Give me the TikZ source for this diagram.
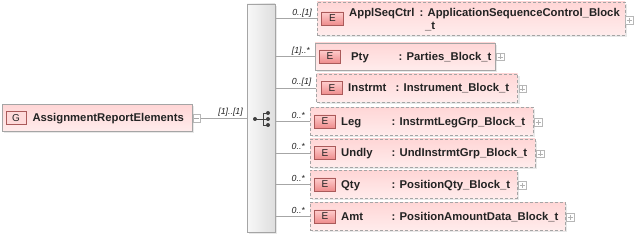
\documentclass[tikz,border=0pt]{standalone}
\usepackage{fontspec}
\setmainfont{Liberation Sans}
\usetikzlibrary{shadows}
\definecolor{boxpinkA}{RGB}{255,214,214}
\definecolor{boxpinkB}{RGB}{255,236,236}
\definecolor{iconA}{RGB}{255,205,205}
\definecolor{iconB}{RGB}{238,140,140}
\definecolor{iconline}{RGB}{170,90,90}
\definecolor{gicon}{RGB}{255,218,218}
\definecolor{boxline}{RGB}{165,165,165}
\definecolor{txtc}{RGB}{35,35,35}
\definecolor{seqA}{RGB}{248,248,248}
\definecolor{seqB}{RGB}{222,222,222}
\begin{document}
\begin{tikzpicture}[x=1pt,y=-1pt,
  box/.style={draw=boxline, line width=0.8pt, inner sep=0pt, top color=boxpinkA, bottom color=boxpinkB,
    drop shadow={shadow xshift=2pt, shadow yshift=-2pt, fill=black!18, draw=none}},
  dbox/.style={box, dash pattern=on 3pt off 2pt},
  eicon/.style={draw=iconline, line width=0.6pt, top color=iconA, bottom color=iconB, minimum width=21.5pt, minimum height=13pt,
    inner sep=0pt, font=\fontsize{10}{10}\selectfont, text=txtc},
  txt/.style={font=\bfseries\fontsize{11.3}{13}\selectfont, text=txtc, inner sep=0pt, anchor=base west},
  mult/.style={font=\itshape\fontsize{8.8}{9}\selectfont, text=txtc, inner sep=0pt, anchor=base east},
  pm/.style={draw=boxline!80, fill=white, line width=0.5pt, minimum width=7.5pt, minimum height=7.5pt, inner sep=0pt},
  conn/.style={draw=gray!70, line width=0.7pt}
]
\useasboundingbox (0,0) rectangle (634,237);

% group node
\node[box, minimum width=190pt, minimum height=27pt] (grp) at (97,118) {};
\node[draw=iconline, line width=0.6pt, fill=gicon, minimum width=20pt, minimum height=13pt, inner sep=0pt,
  font=\fontsize{10}{10}\selectfont, text=txtc] (gico) at (16,118) {G};
\node[txt] (gtxt) at (32.3,121.5) {AssignmentReportElements};
\node[pm] (gminus) at (196.5,118.3) {};
\draw[gray!70, line width=0.6pt] ([xshift=1.6pt]gminus.west) -- ([xshift=-1.6pt]gminus.east);

% sequence compositor
\node[draw=boxline, line width=0.8pt, left color=seqA, right color=seqB, minimum width=28pt, minimum height=228pt, inner sep=0pt,
  drop shadow={shadow xshift=2pt, shadow yshift=-2pt, fill=black!18, draw=none}] (seq) at (261,118) {};
\draw[conn] (gminus.east) -- (gminus.east -| seq.west);
\node[mult] (gmult) at (243,115) {[1]..[1]};

% sequence icon
\begin{scope}[black!75, line width=0.8pt]
  \fill (255,119) circle (2pt);
  \draw (255,119) -- (263,119);
  \draw (263,113) -- (263,125);
  \draw (263,113) -- (268,113) (263,119) -- (268,119) (263,125) -- (268,125);
  \fill (268,113) circle (2pt) (268,119) circle (2pt) (268,125) circle (2pt);
\end{scope}

% elements
\node[dbox, minimum width=308pt, minimum height=33pt] (appl) at (471,18.5) {};
\node[box, minimum width=180pt, minimum height=27pt] (pty) at (405,56.5) {};
\node[dbox, minimum width=201pt, minimum height=28pt] (instr) at (417,88) {};
\node[dbox, minimum width=223pt, minimum height=28pt] (leg) at (421.5,121.5) {};
\node[dbox, minimum width=225pt, minimum height=28pt] (undly) at (422.5,153) {};
\node[dbox, minimum width=207pt, minimum height=28pt] (qty) at (413.5,184.5) {};
\node[dbox, minimum width=255pt, minimum height=28pt] (amt) at (437.5,216.5) {};

% icons
\node[eicon] (applE) at (332.5,18.5) {E};
\node[eicon] (ptyE) at (330,56.5) {E};
\node[eicon] (instrE) at (332,88) {E};
\node[eicon] (legE) at (325,121.5) {E};
\node[eicon] (undlyE) at (325,153) {E};
\node[eicon] (qtyE) at (325,184.5) {E};
\node[eicon] (amtE) at (325,216.5) {E};

% names
\node[txt] (applN) at (349,17) {ApplSeqCtrl};
\node[txt] (ptyN) at (351,60.5) {Pty};
\node[txt] (instrN) at (348,92) {Instrmt};
\node[txt] (legN) at (341,125.5) {Leg};
\node[txt] (undlyN) at (341,157) {Undly};
\node[txt] (qtyN) at (341,188.5) {Qty};
\node[txt] (amtN) at (341,220.5) {Amt};

% types
\node[txt] (applT) at (419.5,17) {: ApplicationSequenceControl\_Block};
\node[txt] (applT2) at (425,30) {\_t};
\node[txt] (ptyT) at (398.5,60.5) {: Parties\_Block\_t};
\node[txt] (instrT) at (395.5,92) {: Instrument\_Block\_t};
\node[txt] (legT) at (391.5,125.5) {: InstrmtLegGrp\_Block\_t};
\node[txt] (undlyT) at (391.5,157) {: UndInstrmtGrp\_Block\_t};
\node[txt] (qtyT) at (391.5,188.5) {: PositionQty\_Block\_t};
\node[txt] (amtT) at (391.5,220.5) {: PositionAmountData\_Block\_t};

% plus boxes
\foreach \n/\x/\y in {applP/629/20.5, ptyP/500/57, instrP/522.5/89, legP/538/122.5, undlyP/540/154, qtyP/522/185.5, amtP/570/217.5}{
  \node[pm] (\n) at (\x,\y) {};
  \draw[gray!60, line width=0.5pt] ([xshift=1.5pt]\n.west) -- ([xshift=-1.5pt]\n.east)
        ([yshift=-1.5pt]\n.north) -- ([yshift=1.5pt]\n.south);
}

% connectors and multiplicities
\foreach \e/\m in {appl/{0..[1]}, pty/{[1]..*}, instr/{0..[1]}, leg/{0..*}, undly/{0..*}, qty/{0..*}, amt/{0..*}}{
  \draw[conn] (\e.west -| seq.east) -- (\e.west);
  \node[mult] at ([xshift=-4.5pt, yshift=3pt]\e.west) {\m};
}
\end{tikzpicture}
\end{document}
